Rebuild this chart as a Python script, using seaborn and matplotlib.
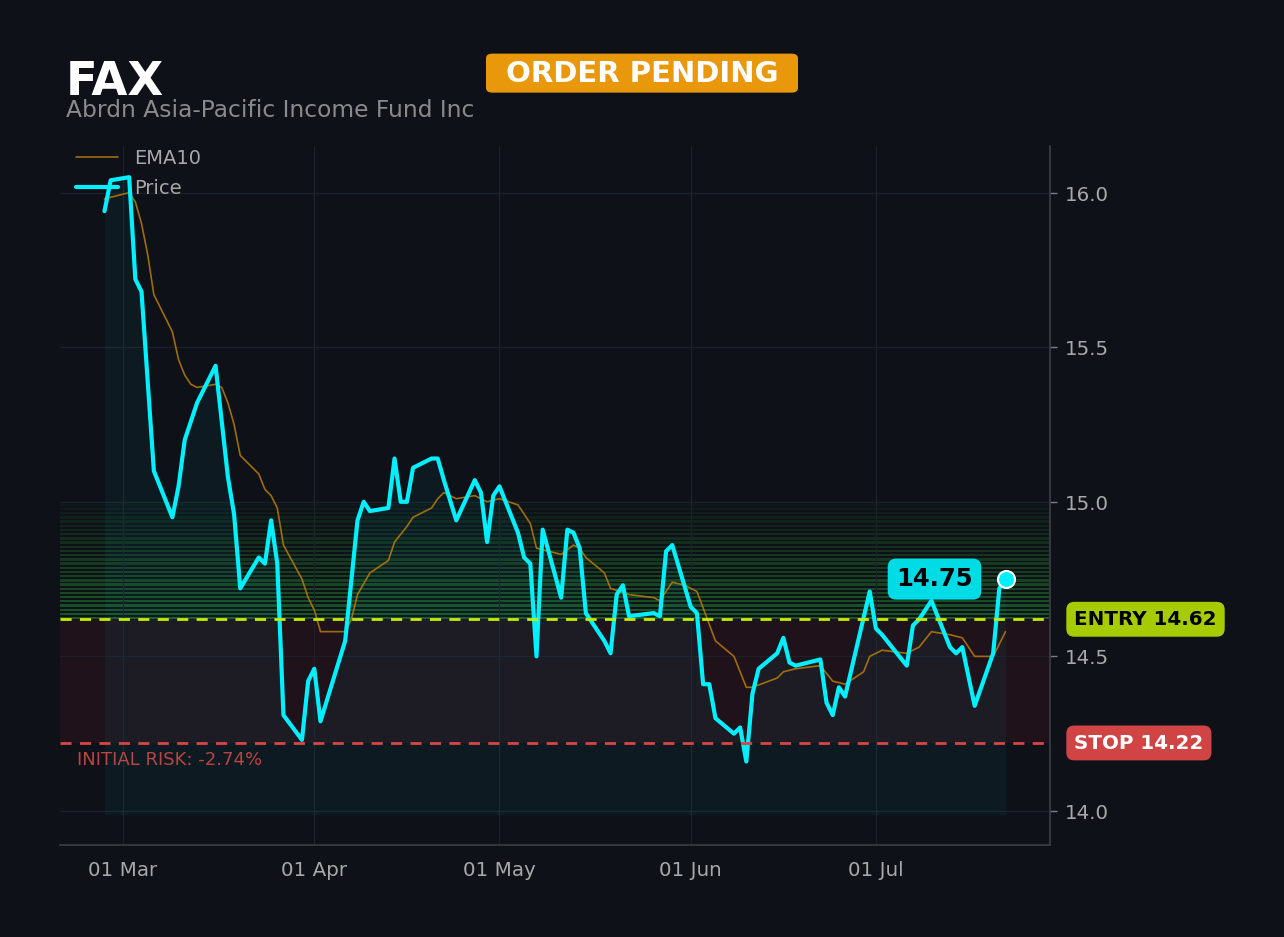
import numpy as np
import pandas as pd
import seaborn as sns
import matplotlib.dates as mdates
import matplotlib.transforms as mtransforms
from matplotlib.patches import FancyBboxPatch
from matplotlib import pyplot as plt

# values
price_dates = ['2024-02-27', '2024-02-28', '2024-03-02', '2024-03-03', '2024-03-04', '2024-03-06',
               '2024-03-09', '2024-03-10', '2024-03-11', '2024-03-13', '2024-03-16', '2024-03-18',
               '2024-03-19', '2024-03-20', '2024-03-23', '2024-03-24', '2024-03-25', '2024-03-26',
               '2024-03-27', '2024-03-30', '2024-03-31', '2024-04-01', '2024-04-02', '2024-04-06',
               '2024-04-08', '2024-04-09', '2024-04-10', '2024-04-13', '2024-04-14', '2024-04-15',
               '2024-04-16', '2024-04-17', '2024-04-20', '2024-04-21', '2024-04-22', '2024-04-24',
               '2024-04-27', '2024-04-28', '2024-04-29', '2024-04-30', '2024-05-01', '2024-05-04',
               '2024-05-05', '2024-05-06', '2024-05-07', '2024-05-08', '2024-05-11', '2024-05-12',
               '2024-05-13', '2024-05-14', '2024-05-15', '2024-05-18', '2024-05-19', '2024-05-20',
               '2024-05-21', '2024-05-22', '2024-05-26', '2024-05-27', '2024-05-28', '2024-05-29',
               '2024-06-01', '2024-06-02', '2024-06-03', '2024-06-04', '2024-06-05', '2024-06-08',
               '2024-06-09', '2024-06-10', '2024-06-11', '2024-06-12', '2024-06-15', '2024-06-16',
               '2024-06-17', '2024-06-18', '2024-06-22', '2024-06-23', '2024-06-24', '2024-06-25',
               '2024-06-26', '2024-06-30', '2024-07-01', '2024-07-02', '2024-07-06', '2024-07-07',
               '2024-07-08', '2024-07-10', '2024-07-13', '2024-07-14', '2024-07-15', '2024-07-17',
               '2024-07-20', '2024-07-21', '2024-07-22']
price_values = [15.94, 16.04, 16.05, 15.72, 15.68, 15.10,
                14.95, 15.05, 15.20, 15.32, 15.44, 15.08,
                14.96, 14.72, 14.82, 14.80, 14.94, 14.80,
                14.31, 14.23, 14.42, 14.46, 14.29, 14.55,
                14.94, 15.00, 14.97, 14.98, 15.14, 15.00,
                15.00, 15.11, 15.14, 15.14, 15.07, 14.94,
                15.07, 15.03, 14.87, 15.02, 15.05, 14.90,
                14.82, 14.80, 14.50, 14.91, 14.69, 14.91,
                14.90, 14.85, 14.64, 14.55, 14.51, 14.70,
                14.73, 14.63, 14.64, 14.63, 14.84, 14.86,
                14.66, 14.64, 14.41, 14.41, 14.30, 14.25,
                14.27, 14.16, 14.38, 14.46, 14.51, 14.56,
                14.48, 14.47, 14.49, 14.35, 14.31, 14.40,
                14.37, 14.71, 14.59, 14.57, 14.47, 14.60,
                14.62, 14.68, 14.53, 14.51, 14.53, 14.34,
                14.51, 14.72, 14.75]

ema_dates = ['2024-02-27', '2024-03-02', '2024-03-03', '2024-03-04', '2024-03-05', '2024-03-06',
             '2024-03-09', '2024-03-10', '2024-03-11', '2024-03-12', '2024-03-13', '2024-03-16',
             '2024-03-17', '2024-03-18', '2024-03-19', '2024-03-20', '2024-03-23', '2024-03-24',
             '2024-03-25', '2024-03-26', '2024-03-27', '2024-03-30', '2024-03-31', '2024-04-01',
             '2024-04-02', '2024-04-06', '2024-04-07', '2024-04-08', '2024-04-10', '2024-04-13',
             '2024-04-14', '2024-04-16', '2024-04-17', '2024-04-20', '2024-04-21', '2024-04-22',
             '2024-04-24', '2024-04-27', '2024-04-29', '2024-05-01', '2024-05-04', '2024-05-06',
             '2024-05-07', '2024-05-09', '2024-05-11', '2024-05-13', '2024-05-14', '2024-05-15',
             '2024-05-18', '2024-05-19', '2024-05-22', '2024-05-26', '2024-05-27', '2024-05-29',
             '2024-05-31', '2024-06-02', '2024-06-05', '2024-06-08', '2024-06-10', '2024-06-11',
             '2024-06-15', '2024-06-16', '2024-06-18', '2024-06-22', '2024-06-24', '2024-06-26',
             '2024-06-29', '2024-06-30', '2024-07-02', '2024-07-06', '2024-07-08', '2024-07-10',
             '2024-07-13', '2024-07-15', '2024-07-17', '2024-07-20', '2024-07-22']
ema_values = [15.98, 16.00, 15.97, 15.90, 15.80, 15.67,
              15.55, 15.46, 15.41, 15.38, 15.37, 15.38,
              15.37, 15.32, 15.25, 15.15, 15.09, 15.04,
              15.02, 14.98, 14.86, 14.75, 14.69, 14.65,
              14.58, 14.58, 14.62, 14.70, 14.77, 14.81,
              14.87, 14.92, 14.95, 14.98, 15.01, 15.03,
              15.01, 15.02, 15.00, 15.01, 14.99, 14.93,
              14.85, 14.84, 14.83, 14.86, 14.85, 14.82,
              14.77, 14.72, 14.70, 14.69, 14.68, 14.74,
              14.73, 14.71, 14.55, 14.50, 14.40, 14.40,
              14.43, 14.45, 14.46, 14.47, 14.42, 14.41,
              14.45, 14.50, 14.52, 14.51, 14.53, 14.58,
              14.57, 14.56, 14.50, 14.50, 14.58]

ticker = 'FAX'
company = 'Abrdn Asia-Pacific Income Fund Inc'
status = 'ORDER PENDING'
entry_price = 14.62
stop_price = 14.22
target_price = 15.00
risk_pct = -2.74

BG = '#0e1118'
CYAN = '#00f0ff'
GRID = '#1d2129'
TXT = '#a8a8a8'
W, H = 1284, 937

sns.set_theme(style='dark', rc={
    'figure.facecolor': BG, 'axes.facecolor': BG, 'savefig.facecolor': BG,
    'axes.edgecolor': '#3a3d44', 'grid.color': GRID, 'text.color': TXT,
    'xtick.color': TXT, 'ytick.color': TXT, 'axes.labelcolor': TXT,
})
plt.rcParams['font.family'] = ['DejaVu Sans']

price = pd.DataFrame({'date': pd.to_datetime(price_dates), 'value': price_values})
ema = pd.DataFrame({'date': pd.to_datetime(ema_dates), 'value': ema_values})

fig = plt.figure(figsize=(W / 100, H / 100 + 0.004), dpi=100)
ax = fig.add_axes([60 / W, 92 / H, 990 / W, 699 / H])

ax.set_ylim(13.89, 16.152)
ax.set_xlim(pd.Timestamp('2024-02-19 19:00'), pd.Timestamp('2024-07-29 05:00'))

# risk zone and striped target zone
ax.axhspan(stop_price, entry_price, color='#ff2d3d', alpha=0.07, lw=0, zorder=0)
n_bands = 28
band_h = (target_price - entry_price) / n_bands
for i in range(n_bands):
    lo = entry_price + i * band_h
    ax.axhspan(lo, lo + band_h * 0.55, color='#2fbf3a',
               alpha=0.04 + 0.36 * (1 - i / n_bands), lw=0, zorder=0)

# area under price
ax.fill_between(price['date'], price['value'], 13.987, color=CYAN, alpha=0.045, lw=0, zorder=1)

sns.lineplot(data=ema, x='date', y='value', ax=ax, color='#b87c0c', lw=1.2,
             alpha=0.85, label='EMA10', zorder=3)
sns.lineplot(data=price, x='date', y='value', ax=ax, color=CYAN, lw=3,
             label='Price', zorder=4)

ax.axhline(entry_price, color='#c8ea00', ls=(0, (4, 3)), lw=2, zorder=5)
ax.axhline(stop_price, color='#d94545', ls=(0, (4, 3)), lw=2, zorder=5)

last_date = price['date'].iloc[-1]
last_val = price['value'].iloc[-1]
ax.scatter([last_date], [last_val], s=150, color=CYAN, edgecolor='white', lw=1.5, zorder=6)
ax.annotate(f'{last_val:.2f}', xy=(last_date, last_val), xytext=(-71, 0),
            textcoords='offset pixels', ha='center', va='center', fontsize=17.5,
            fontweight='bold', color='black', zorder=7,
            bbox=dict(boxstyle='round,pad=0.35', fc='#00dce6', ec='none'))

trans = mtransforms.blended_transform_factory(ax.transAxes, ax.transData)
ax.text(1.0245, entry_price, f'ENTRY {entry_price:.2f}', transform=trans, ha='left', va='center',
        fontsize=14.3, fontweight='bold', color='black',
        bbox=dict(boxstyle='round,pad=0.4', fc='#a6cc00', ec='none'))
ax.text(1.0245, stop_price, f'STOP {stop_price:.2f}', transform=trans, ha='left', va='center',
        fontsize=14.3, fontweight='bold', color='white',
        bbox=dict(boxstyle='round,pad=0.4', fc='#d04444', ec='none'))
ax.text(0.017, 14.165, f'INITIAL RISK: {risk_pct:.2f}%', transform=trans, ha='left', va='center',
        fontsize=13, color='#b84444')

# axes styling
ax.yaxis.tick_right()
ax.set_yticks([14.0, 14.5, 15.0, 15.5, 16.0])
ax.yaxis.set_major_formatter(plt.FormatStrFormatter('%.1f'))
ax.xaxis.set_major_locator(mdates.MonthLocator(bymonth=[3, 4, 5, 6, 7]))
ax.xaxis.set_major_formatter(mdates.DateFormatter('%d %b'))
ax.tick_params(axis='both', labelsize=14.3, length=5, width=1, color='#7a7d84', pad=6)
ax.grid(True, color=GRID, lw=0.9)
ax.set_xlabel('')
ax.set_ylabel('')
for side in ['left', 'top']:
    ax.spines[side].set_visible(False)
for side in ['right', 'bottom']:
    ax.spines[side].set_color('#3a3d44')

leg = ax.legend(loc='upper left', frameon=False, fontsize=14, labelcolor=TXT,
                handlelength=2.2, labelspacing=0.55, borderaxespad=0.4,
                bbox_to_anchor=(0.0, 1.018))

# header
fig.text(66 / W, 1 - 82 / H, ticker, fontsize=33.5, fontweight='bold', color='white',
         ha='left', va='center')
fig.text(66 / W, 1 - 110 / H, company, fontsize=16.8, color='#8a8a8a', ha='left', va='center')
fig.patches.append(FancyBboxPatch((486 / W, 1 - 93 / H), 312 / W, 39 / H,
                                  boxstyle='round,pad=0,rounding_size=0.005',
                                  transform=fig.transFigure, fc='#e8980a', ec='none'))
fig.text(642 / W, 1 - 74 / H, status, fontsize=21, fontweight='bold', color='white',
         ha='center', va='center')

fig.savefig('out.png', dpi=100)
